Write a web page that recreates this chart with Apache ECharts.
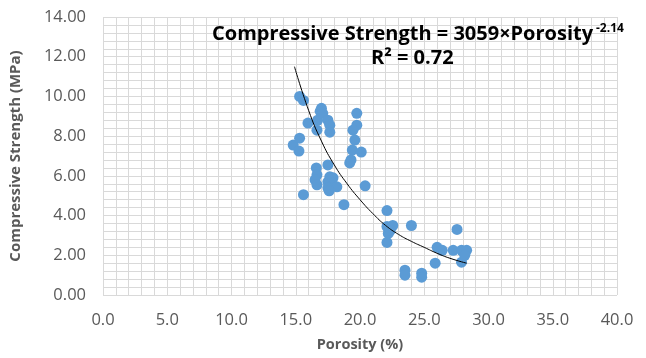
<!DOCTYPE html>
<html>
<head>
<meta charset="utf-8">
<script src="https://cdn.jsdelivr.net/npm/echarts@6/dist/echarts.min.js"></script>
<style>
  html, body { margin: 0; padding: 0; background: #fff; }
  #chart { width: 646px; height: 358px; }
</style>
</head>
<body>
<div id="chart"></div>
<script>
// measured points (porosity %, compressive strength MPa)
const porosity = [
  15.3, 15.6, 14.8, 15.25, 15.3, 15.6, 15.95, 16.65, 16.7, 16.9,
  17.0, 17.1, 17.5, 17.65, 17.65, 16.6, 16.65, 16.5, 16.65, 17.5,
  17.65, 17.5, 17.9, 18.2, 17.5, 17.6, 18.75, 19.75, 19.75, 19.45,
  19.6, 19.4, 20.1, 19.3, 19.2, 20.4, 22.1, 22.1, 22.55, 22.2,
  22.1, 22.35, 24.0, 23.5, 23.5, 24.8, 24.8, 25.85, 26.0, 26.4,
  27.25, 27.55, 27.9, 28.3, 27.9, 28.15
]
const strength = [
  10.0, 9.8, 7.55, 7.25, 7.9, 5.05, 8.66, 8.3, 8.8, 9.25,
  9.4, 9.15, 8.8, 8.55, 8.2, 6.4, 6.05, 5.8, 5.55, 6.55,
  5.95, 5.7, 5.9, 5.45, 5.4, 5.25, 4.55, 9.15, 8.55, 8.3,
  7.8, 7.3, 7.2, 6.8, 6.65, 5.5, 4.25, 3.45, 3.5, 3.1,
  2.65, 3.25, 3.5, 1.25, 1.0, 1.1, 0.9, 1.6, 2.4, 2.25,
  2.25, 3.3, 2.25, 2.25, 1.65, 2.0
]

// trendline as drawn in the picture
const trendX = [14.9, 16, 17, 18, 19, 20, 21, 22, 23, 24, 25, 26, 27, 28.3]
const trendY = [11.5, 9.3, 7.75, 6.55, 5.6, 4.8, 4.1, 3.5, 3.05, 2.7, 2.4, 2.1, 1.85, 1.6]

const xTicks = [0, 40, 5]   // min, max, interval
const yTicks = [0, 14, 2]

const chart = echarts.init(document.getElementById('chart'))

const gridColor = '#d9d9d9'
const labelColor = '#595959'
const font = 'Open Sans'

chart.setOption({
  animation: false,
  grid: { left: 103, right: 29, top: 17, bottom: 63 },
  xAxis: {
    type: 'value',
    min: xTicks[0], max: xTicks[1], interval: xTicks[2],
    name: 'Porosity (%)',
    nameLocation: 'middle',
    nameGap: 42,
    nameTextStyle: { color: labelColor, fontFamily: font, fontSize: 14.5, fontWeight: 'bold' },
    axisLine: { show: false },
    axisTick: { show: false },
    axisLabel: {
      color: labelColor, fontFamily: font, fontSize: 16.5, margin: 17,
      formatter: v => v.toFixed(1)
    },
    splitLine: { show: true, lineStyle: { color: gridColor, width: 1 } },
    minorTick: { show: true, splitNumber: 5, length: 0 },
    minorSplitLine: { show: true, lineStyle: { color: gridColor, width: 1 } }
  },
  yAxis: {
    type: 'value',
    min: yTicks[0], max: yTicks[1], interval: yTicks[2],
    name: 'Compressive Strength (MPa)',
    nameLocation: 'middle',
    nameGap: 80,
    nameTextStyle: { color: labelColor, fontFamily: font, fontSize: 15, fontWeight: 'bold' },
    axisLine: { show: false },
    axisTick: { show: false },
    axisLabel: {
      color: labelColor, fontFamily: font, fontSize: 16.5, margin: 17,
      formatter: v => v.toFixed(2)
    },
    splitLine: { show: true, lineStyle: { color: gridColor, width: 1 } },
    minorTick: { show: true, splitNumber: 5, length: 0 },
    minorSplitLine: { show: true, lineStyle: { color: gridColor, width: 1 } }
  },
  series: [
    {
      type: 'scatter',
      symbolSize: 11,
      itemStyle: { color: '#5b9bd5', opacity: 1 },
      data: porosity.map((p, i) => [p, strength[i]]),
      z: 2
    },
    {
      type: 'line',
      smooth: true,
      showSymbol: false,
      lineStyle: { color: '#000', width: 1 },
      data: trendX.map((p, i) => [p, trendY[i]]),
      z: 3
    }
  ],
  graphic: [
    {
      type: 'text', left: 212, top: 24, z: 10,
      style: {
        text: 'Compressive Strength = 3059×Porosity',
        fill: '#000', stroke: 'transparent', lineWidth: 0,
        fontFamily: font, fontSize: 20, fontWeight: 'bold'
      }
    },
    {
      type: 'text', left: 596, top: 23, z: 10,
      style: {
        text: '-2.14', fill: '#000', stroke: 'transparent', lineWidth: 0,
        fontFamily: font, fontSize: 12, fontWeight: 'bold'
      }
    },
    {
      type: 'text', left: 371, top: 48, z: 10,
      style: {
        text: 'R² = 0.72', fill: '#000', stroke: 'transparent', lineWidth: 0,
        fontFamily: font, fontSize: 20, fontWeight: 'bold'
      }
    }
  ]
})
</script>
</body>
</html>
